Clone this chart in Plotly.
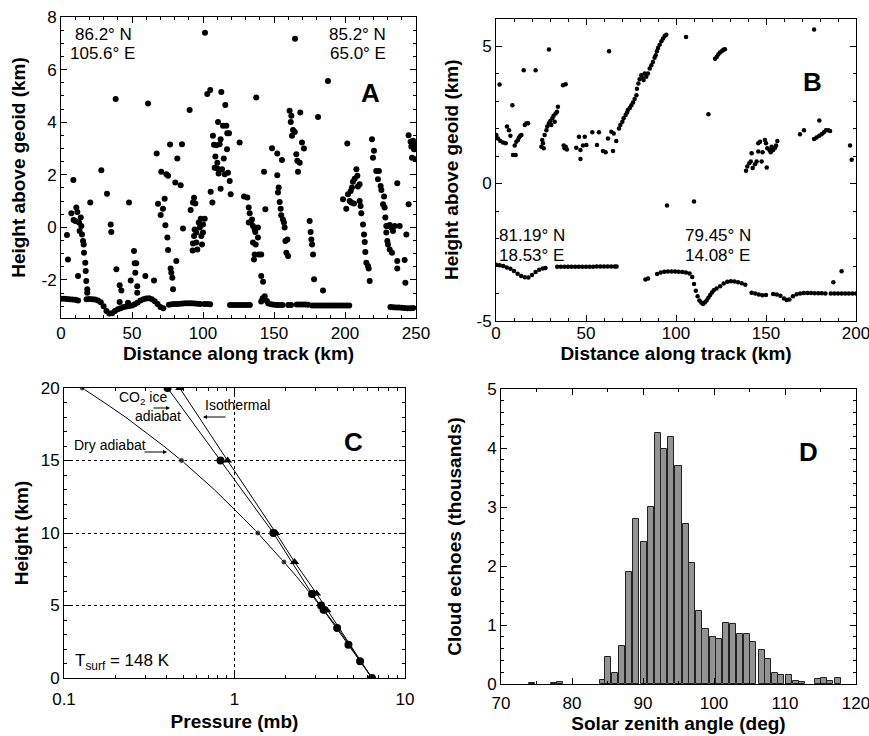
import plotly.graph_objects as go

W, H = 869, 736
FONT = "Liberation Sans, Arial, Helvetica, sans-serif"

def px(x):
    return x / W

def py(y):
    return 1 - y / H

# ---------------- Panel A data (km along track, km height) ----------------
a_cloud_x = [4.2, 4.9, 7.3, 8.7, 8.9, 10.1, 10.8, 11.5, 12.0, 12.7, 13.1, 13.9, 14.3, 14.8, 15.5, 16.0, 16.2, 17.1, 17.4, 17.8, 18.5, 18.5,
             20.6, 28.4, 32.4, 35.0, 35.4, 38.5, 39.0, 41.3, 42.5, 41.3, 47.9, 49.1, 51.4, 51.9, 53.0, 52.3, 53.7, 53.7, 47.2, 59.4,
             61.3, 65.5, 67.4, 68.3, 70.6, 70.2, 71.8, 73.0, 73.5, 74.9, 75.4, 74.2, 75.4, 76.8, 77.2, 77.7, 78.9, 78.4, 80.5, 81.2,
             81.9, 84.3, 85.2, 85.9,
             90.6, 91.3, 92.9, 93.7, 94.6, 94.1, 93.7, 92.9, 92.7, 95.3, 95.3, 96.0, 97.0, 97.7, 98.4, 98.8, 99.3, 100.0, 100.0, 101.2,
             101.4, 103.0, 105.1, 105.4, 106.6, 107.0, 107.7, 108.7, 109.4, 108.2, 110.1, 110.1, 110.6, 111.0, 111.7, 112.4, 112.4, 112.9,
             113.4, 114.1, 114.6, 115.3, 115.7, 116.4, 116.9, 117.1, 117.6, 118.3, 118.8, 119.5, 125.8, 128.9, 131.2, 132.2, 132.9,
             133.6, 132.2, 134.5, 135.2, 136.4, 137.5, 136.8, 138.7, 138.7, 135.2, 137.1, 136.4, 135.9, 139.2, 141.0, 143.0, 143.9,
             141.0, 142.3, 148.6, 152.3, 155.6, 152.3, 153.3, 152.8, 154.0, 154.7, 155.1, 156.3, 157.0, 157.5, 158.0, 159.4, 158.7,
             159.9, 161.0, 161.8, 162.2, 163.4, 164.6, 162.7, 164.8, 165.7, 166.4, 166.9, 168.5, 169.7,
             188.0, 171.1, 168.1, 181.0, 175.1, 175.8, 176.3, 176.8, 177.5, 178.2, 184.5, 201.6, 198.6, 200.9, 202.1, 203.3, 204.0,
             204.9, 205.6, 204.4, 206.3, 206.8, 208.0, 208.7, 209.1, 210.3, 210.3, 211.0, 211.5, 212.7, 213.4, 213.9, 214.3, 215.0,
             216.2, 216.7, 217.4, 219.0, 220.4, 219.7, 222.0, 223.9, 223.2, 225.1, 225.6, 227.5, 226.8, 227.9, 228.4, 229.1, 230.3,
             231.5, 232.6, 235.0, 233.8, 229.1, 229.8, 230.3, 231.5, 233.1, 236.8, 238.5, 236.8, 236.8, 242.0, 242.5, 243.2, 244.8,
             244.8, 246.2, 246.7, 247.9, 247.2, 248.6, 249.5, 249.0]
a_cloud_y = [-0.29, -1.22, 0.53, 1.80, 0.28, 0.24, 0.75, 0.58, -1.85, 0.18, -0.14, 0.37, 0.05, -0.27, -0.52, -0.65, -0.97, -1.35, -1.66, -2.04, -2.36, -2.49,
             0.94, 2.17, 1.28, 0.11, -0.18, 4.88, -1.60, -2.20, -2.40, -2.84, 0.94, -2.02, -0.90, -1.37, -1.37, -1.73, -2.24, -2.49, -2.87, -1.85,
             4.71, -2.02, 2.81, 0.90, 2.11, 0.47, 0.71, 1.09, 0.08, -0.39, -0.86, 2.02, 1.96, 3.15, -1.57, -1.73, -2.36, -1.92, 1.70, -1.28,
             2.62, 1.60, 3.16, -0.05,
             4.46, 0.66, 0.94, 1.12, 0.91, -0.08, -0.33, -0.62, -0.88, -0.20, -0.58, -0.84, 0.18, -0.01, 0.33, -0.33, -0.65, -0.20, 0.11, 0.33,
             7.40, 5.07, 5.22, 1.35, 0.94, 3.48, 3.14, 2.69, 3.12, 2.27, 2.46, 2.24, 4.01, 2.05, 3.16, 3.35, 1.47, 5.15,
             2.21, 3.86, 2.62, 2.02, 4.65, 3.86, 2.97, 3.58, 2.08, 3.58, 1.76, 1.26, 3.23, 1.17, 1.13, 0.75, 0.53,
             0.18, 0.18, 0.30, 0.05, -0.08, 4.94, -0.18, -0.01, -0.39, -0.58, -0.65, -1.03, -1.22, -1.03, -1.03, 2.11, 0.69,
             -1.85, -2.07, 3.01, 2.81, 2.56, 1.98, 1.51, 1.32, 0.96, 0.71, 0.46, 0.30, 0.18, -0.01, -0.52, -0.46, -0.97,
             -1.09, 4.43, 4.01, 4.24, 3.70, 3.63, 3.48, 7.17, 2.78, 2.53, 2.11, 4.37, 3.23,
             5.57, 3.00, 2.46, 4.20, 0.24, -0.18, -0.46, -0.65, -1.03, -1.98, -2.40, 3.19, 1.07, 0.71, 1.26, 1.00, 1.38,
             1.51, 1.73, 0.94, 0.91, 1.85, 2.21, 1.96, 1.55, 1.64, 1.00, 0.81, 0.53, 0.11, -0.27, -0.56, -0.94, -1.35,
             -1.47, -1.57, -2.04, 3.35, 2.91, 2.65, 2.14, 2.14, 1.83, 1.57, 1.42, 1.17, 0.88, 0.75, 0.37, 0.05, 0.05,
             0.09, -0.01, 0.05, -0.14, -0.20, -0.52, -0.65, -0.84, -0.97, 1.68, 0.05, -1.28, -1.57, -1.24, -2.11, -0.27, 0.88,
             3.50, 3.25, 3.07, 3.29, 2.65, 2.97, 2.59, 3.16]

a_surf_x = [0, 2, 4, 6, 8, 10, 12,
            18, 20, 22, 24, 26, 28, 30, 32, 34, 36, 38, 40, 42, 44, 46, 48, 50, 52, 54, 56, 58, 60, 62, 64, 66, 68, 70, 72,
            76, 78, 80, 82, 84, 86, 88, 90, 92, 94, 96, 98, 101, 103, 105,
            119, 121, 123, 125, 127, 129, 131, 133,
            141, 142, 143.5, 145, 146, 148, 150, 152, 154, 156,
            160, 162, 166, 168, 170, 172, 174, 177, 179, 181, 183, 185, 187, 189, 191, 193, 195, 197, 199, 201, 203,
            232, 234, 236, 238, 240, 242, 244, 246, 248]
a_surf_y = [-2.72, -2.72, -2.73, -2.74, -2.75, -2.76, -2.78,
            -2.74, -2.73, -2.74, -2.75, -2.78, -2.85, -3.00, -3.18, -3.28, -3.27, -3.18, -3.12, -3.08, -3.03, -3.01, -2.99, -2.97, -2.93,
            -2.86, -2.78, -2.74, -2.71, -2.70, -2.74, -2.81, -2.92, -3.03, -3.08,
            -2.95, -2.93, -2.92, -2.92, -2.91, -2.90, -2.89, -2.89, -2.89, -2.90, -2.91, -2.92, -2.92, -2.92, -2.93,
            -2.96, -2.96, -2.96, -2.96, -2.96, -2.96, -2.96, -2.96,
            -2.82, -2.70, -2.62, -2.80, -2.90, -2.93, -2.95, -2.96, -2.96, -2.96,
            -2.96, -2.96, -2.94, -2.94, -2.94, -2.94, -2.95, -2.97, -2.97, -2.97, -2.97, -2.97, -2.97, -2.97, -2.97, -2.97,
            -2.97, -2.97, -2.97, -2.97, -2.97,
            -3.03, -3.04, -3.05, -3.05, -3.06, -3.07, -3.08, -3.08, -3.07]

# ---------------- Panel B data ----------------
b_cloud_x = [2.0, 0.2, 1.1, 2.4, 3.9, 5.4, 6.1, 7.2, 8.0, 9.1, 9.4, 10.9, 10.4, 11.3, 12.2, 12.8, 13.5, 14.1, 15.4, 16.0, 16.9, 17.8,
             22.0, 25.2, 26.1, 26.5, 25.7, 27.0, 28.0, 28.5, 29.4, 30.2, 30.7, 31.3, 32.0, 32.6, 33.1, 33.9, 34.4, 29.4, 37.2, 38.7,
             37.6, 38.1, 39.4, 38.7, 44.6, 46.1, 46.9, 46.9, 48.3, 49.3, 50.2, 53.5, 57.2, 56.1, 59.4, 60.9, 62.8, 62.2, 64.1, 65.0,
             65.4, 66.8, 68.3, 69.1, 70.2, 70.9, 72.0, 72.8, 73.3, 74.3, 75.2, 76.1, 77.0, 78.0, 78.3, 79.1, 79.8, 80.7, 81.3, 82.0,
             82.6, 83.5, 84.4, 85.4, 86.3, 87.2, 88.1, 88.7, 89.4, 90.0, 90.9, 91.9, 92.8, 93.7, 94.6, 95.0,
             105.6, 121.7, 122.6, 123.5, 124.4, 125.4, 126.3, 127.2, 118.0, 176.7, 110.0, 138.9, 139.6, 140.7, 141.5, 142.0, 142.6,
             143.9, 144.8, 145.7, 145.7, 146.7, 147.6, 148.1, 149.4, 150.0, 150.4, 150.7, 151.9, 152.6, 153.1, 154.0, 155.0, 156.3,
             155.6, 168.9, 171.1, 179.6, 176.7, 178.1, 179.6, 180.9, 182.2, 183.3, 184.6, 185.6, 196.7, 197.6, 187.4, 192.0]
b_cloud_y = [3.60, 1.76, 1.64, 1.55, 1.49, 1.46, 2.07, 1.94, 1.74, 2.85, 1.04, 1.04, 1.38, 1.52, 1.58, 1.67, 1.74, 1.76, 4.12, 2.13, 2.19, 2.19,
             4.12, 1.34, 1.46, 1.28, 1.58, 1.76, 1.94, 2.07, 2.19, 2.27, 2.13, 2.37, 2.46, 2.25, 2.55, 2.61, 2.79, 4.87, 3.57, 3.61,
             1.38, 1.28, 1.24, 1.34, 1.30, 1.70, 1.22, 0.89, 1.38, 1.70, 1.40, 1.86, 1.86, 1.40, 1.18, 1.14, 4.81, 1.64, 1.88, 1.18,
             1.82, 1.55, 2.00, 2.13, 2.25, 2.37, 2.49, 2.58, 2.67, 2.75, 2.85, 2.95, 3.07, 3.21, 3.45, 3.64, 3.79, 3.94, 3.84, 3.76,
             4.00, 3.88, 4.00, 4.18, 4.30, 4.42, 4.57, 4.66, 4.81, 4.93, 5.05, 5.17, 5.27, 5.36, 5.41, -0.80,
             5.33, 4.54, 4.60, 4.69, 4.76, 4.81, 4.86, 4.88, 2.52, 5.60, -0.65, 0.46, 0.62, 0.74, 0.80, 1.10, 0.56,
             0.70, 0.80, 1.16, 1.46, 1.52, 0.80, 1.14, 1.58, 1.46, 0.58, 1.28, 1.22, 1.14, 1.34, 1.22, 1.30, 1.55,
             1.38, 1.79, 1.94, 2.29, 1.62, 1.67, 1.74, 1.79, 1.86, 1.94, 1.94, 1.91, 1.38, 0.86, -3.59, -3.19]

b_surf_x = [0, 2, 4, 6, 8, 10, 12, 14, 16, 18, 20, 22, 24, 26, 27.5,
            34, 36, 38, 40, 42, 44, 46, 48, 50, 52, 54, 56, 58, 60, 62, 64, 66, 67,
            83, 84.5,
            89.5, 91.5, 93.5, 95.5, 97.5, 99.5, 101.5, 103.5, 105.5, 107.5, 109, 110, 111, 112, 113, 114, 115, 116, 117, 118, 119,
            120, 121, 122.5,
            124.5, 126.5, 128.5, 130.5, 132.5, 134.5, 136.5, 138.5,
            142, 144, 146, 148, 150,
            154, 156, 158, 160, 161.5, 163, 165, 167, 169, 171, 173, 175, 177, 179, 181, 183,
            186, 188, 190, 192, 194, 196, 198, 200]
b_surf_y = [-2.95, -2.97, -3.00, -3.05, -3.10, -3.18, -3.28, -3.36, -3.41, -3.42, -3.33, -3.22, -3.14, -3.09, -3.07,
            -3.03, -3.03, -3.03, -3.03, -3.03, -3.03, -3.03, -3.03, -3.03, -3.03, -3.03, -3.02, -3.02, -3.02, -3.02, -3.02, -3.02, -3.02,
            -3.49, -3.45,
            -3.29, -3.24, -3.21, -3.20, -3.20, -3.20, -3.21, -3.22, -3.24, -3.27, -3.40, -3.65, -3.90, -4.10, -4.25, -4.33, -4.38,
            -4.33, -4.25, -4.15, -4.05, -3.96, -3.88, -3.82,
            -3.74, -3.64, -3.57, -3.55, -3.56, -3.59, -3.63, -3.68,
            -3.97, -4.00, -4.04, -4.06, -4.05,
            -4.02, -4.04, -4.08, -4.18, -4.24, -4.22, -4.10, -4.03, -4.00, -3.98, -3.98, -3.98, -3.99, -3.99, -3.99, -4.00,
            -4.00, -4.00, -4.00, -4.00, -4.00, -4.00, -4.00, -4.00]

# ---------------- Panel C data (pressure mb, height km) ----------------
dry_z = [0, 1.15, 2.3, 3.45, 4.6, 5.8, 7, 8, 9, 10, 11, 12, 13, 14, 15, 16, 17, 18, 19, 20]
dry_p = [6.4, 5.5, 4.69, 4.03, 3.38, 2.81, 2.31, 1.95, 1.64, 1.37, 1.13, 0.93, 0.76, 0.61, 0.489, 0.384, 0.298, 0.229, 0.172, 0.128]
dry_mark = [7, 6, 6, 6, 6, 6, 0, 6, 0, 6, 0, 0, 0, 0, 6, 0, 0, 0, 0, 6]

co2_z = [0, 1.15, 2.3, 3.45, 4.7, 5.0, 5.8, 10, 15, 20]
co2_p = [6.4, 5.45, 4.66, 4.0, 3.33, 3.22, 2.85, 1.69, 0.828, 0.405]

iso_z = [0, 4.67, 5.82, 8, 10, 15, 20]
iso_p = [6.4, 3.48, 3.03, 2.25, 1.75, 0.91, 0.477]

c_minor_ticks = [0.2, 0.3, 0.4, 0.5, 0.6, 0.7, 0.8, 0.9, 2, 3, 4, 5, 6, 7, 8, 9]

# ---------------- Panel D data ----------------
sza = [74.4, 77.4, 78.3, 84.3, 85.1, 86.0, 87.0, 88.0, 89.0, 90.1, 91.1, 92.1, 93.0, 94.0, 95.0, 96.0, 96.9, 97.9, 98.8, 99.8,
       100.7, 101.7, 102.7, 103.7, 104.6, 105.5, 106.7, 107.6, 108.6, 109.5, 110.6, 111.5, 112.4, 114.6, 115.5, 116.4, 117.4]
echoes = [0.02, 0.02, 0.04, 0.06, 0.45, 0.18, 0.65, 1.89, 2.79, 2.40, 3.00, 4.25, 3.99, 4.19, 3.70, 2.71, 2.05, 1.24, 0.94, 0.79,
          0.76, 1.04, 1.02, 0.85, 0.85, 0.72, 0.58, 0.42, 0.18, 0.15, 0.15, 0.05, 0.03, 0.08, 0.11, 0.05, 0.11]

fig = go.Figure()

# A
fig.add_trace(go.Scatter(x=a_surf_x, y=a_surf_y, mode='markers', marker=dict(color='black', size=6),
                         xaxis='x', yaxis='y', showlegend=False, name='A surface'))
fig.add_trace(go.Scatter(x=a_cloud_x, y=a_cloud_y, mode='markers', marker=dict(color='black', size=6),
                         xaxis='x', yaxis='y', showlegend=False, name='A echoes'))
# B
fig.add_trace(go.Scatter(x=b_surf_x, y=b_surf_y, mode='markers', marker=dict(color='black', size=4.5),
                         xaxis='x2', yaxis='y2', showlegend=False, name='B surface'))
fig.add_trace(go.Scatter(x=b_cloud_x, y=b_cloud_y, mode='markers', marker=dict(color='black', size=4.5),
                         xaxis='x2', yaxis='y2', showlegend=False, name='B echoes'))
# C
fig.add_trace(go.Scatter(x=dry_p, y=dry_z, mode='lines+markers', line=dict(color='black', width=1),
                         marker=dict(color='black', size=dry_mark, symbol='circle'),
                         xaxis='x3', yaxis='y3', showlegend=False, name='Dry adiabat'))
fig.add_trace(go.Scatter(x=co2_p, y=co2_z, mode='lines+markers', line=dict(color='black', width=1),
                         marker=dict(color='black', size=8, symbol='circle'),
                         xaxis='x3', yaxis='y3', showlegend=False, name='CO2 ice adiabat'))
fig.add_trace(go.Scatter(x=iso_p, y=iso_z, mode='lines+markers', line=dict(color='black', width=1),
                         marker=dict(color='black', size=8, symbol='triangle-up'),
                         xaxis='x3', yaxis='y3', showlegend=False, name='Isothermal'))
# D
fig.add_trace(go.Bar(x=sza, y=echoes, width=0.85,
                     marker=dict(color='#939393', line=dict(color='#222', width=1)),
                     xaxis='x4', yaxis='y4', showlegend=False, name='Cloud echoes'))

tickfont = dict(family=FONT, size=17, color='black')
titlefont = dict(family=FONT, size=19, color='black', weight='bold')

def axis(**kw):
    d = dict(showline=True, linecolor='black', linewidth=1, mirror='allticks', ticks='inside', ticklen=6,
             tickwidth=1, tickcolor='black', showgrid=False, zeroline=False, tickfont=tickfont, automargin=False,
             ticklabeloverflow='allow')
    d.update(kw)
    return d

minor = lambda dt: dict(ticks='inside', ticklen=3, tickcolor='black', dtick=dt, showgrid=False)

fig.update_layout(
    width=W, height=H, margin=dict(l=0, r=0, t=0, b=0),
    paper_bgcolor='white', plot_bgcolor='white', showlegend=False, bargap=0,
    xaxis=axis(domain=[px(61), px(416)], range=[0, 250], tickvals=[0, 50, 100, 150, 200, 250], minor=minor(10),
               anchor='y', title=dict(text='Distance along track (km)', font=titlefont, standoff=0)),
    yaxis=axis(domain=[py(318), py(17)], range=[-3.45, 8], tickvals=[-2, 0, 2, 4, 6, 8],
               ticktext=['-2', '0', '2', '4', '6', '8'], minor=minor(0.5), anchor='x',
               title=dict(text='Height above geoid (km)', font=titlefont, standoff=10)),
    xaxis2=axis(domain=[px(496), px(856)], range=[0, 200], tickvals=[0, 50, 100, 150, 200], minor=minor(10),
                anchor='y2', ticklabelstandoff=-3,
                title=dict(text='Distance along track (km)', font=titlefont, standoff=2)),
    yaxis2=axis(domain=[py(321), py(18.5)], range=[-5, 6], tickvals=[-5, 0, 5], ticktext=['-5', '0', '5'],
                minor=minor(1), anchor='x2', title=dict(text='Height above geoid (km)', font=titlefont, standoff=12)),
    xaxis3=axis(domain=[px(64), px(405)], type='log', range=[-1, 1], tickvals=[0.1, 1, 10], ticktext=['0.1', '1', '10'],
                minor=dict(ticks='inside', ticklen=3, tickcolor='black', showgrid=False, tickmode='array',
                           tickvals=c_minor_ticks),
                showgrid=True, gridcolor='black', griddash='dot', gridwidth=1, ticklabelstandoff=6,
                anchor='y3', title=dict(text='Pressure (mb)', font=titlefont, standoff=6)),
    yaxis3=axis(domain=[py(678), py(388)], range=[0, 20], tickvals=[0, 5, 10, 15, 20], minor=minor(1),
                showgrid=True, gridcolor='black', griddash='dot', gridwidth=1,
                anchor='x3', title=dict(text='Height (km)', font=titlefont, standoff=7)),
    xaxis4=axis(domain=[px(501), px(856)], range=[70, 120], tickvals=[70, 80, 90, 100, 110, 120], minor=minor(5),
                anchor='y4', ticklabelstandoff=4,
                title=dict(text='Solar zenith angle (deg)', font=titlefont, standoff=4)),
    yaxis4=axis(domain=[py(684), py(389)], range=[0, 5], tickvals=[0, 1, 2, 3, 4, 5], minor=minor(0.2),
                anchor='x4', title=dict(text='Cloud echoes (thousands)', font=titlefont, standoff=20)),
)

def txt(x, y, s, size=17, xanchor='left', bold=False):
    fig.add_annotation(x=px(x), y=py(y), xref='paper', yref='paper', text=s, showarrow=False,
                       xanchor=xanchor, yanchor='middle',
                       font=dict(family=FONT, size=size, color='black', weight='bold' if bold else 'normal'))

# Panel A labels
txt(73, 34, '86.2° N')
txt(68, 53, '105.6° E')
txt(388, 34, '85.2° N', xanchor='right')
txt(388, 53, '65.0° E', xanchor='right')
txt(370, 93, 'A', size=26, xanchor='center', bold=True)
# Panel B labels
txt(497, 235, '81.19° N')
txt(497, 255, '18.53° E')
txt(683, 235, '79.45° N')
txt(683, 255, '14.08° E')
txt(812, 82, 'B', size=26, xanchor='center', bold=True)
# Panel C labels
txt(117, 398, 'CO<sub>2</sub> ice', size=14)
txt(133, 416, 'adiabat', size=14)
txt(203, 405, 'Isothermal', size=14)
txt(72, 445, 'Dry adiabat', size=14)
txt(73, 662, 'T<sub>surf</sub> = 148 K', size=17)
txt(353, 442, 'C', size=26, xanchor='center', bold=True)
# Panel D label
txt(808, 452, 'D', size=26, xanchor='center', bold=True)

def arrow(hx, hy, dx):
    fig.add_annotation(x=px(hx), y=py(hy), xref='paper', yref='paper', text='', showarrow=True,
                       ax=dx, ay=0, arrowhead=2, arrowsize=0.8, arrowwidth=1, arrowcolor='black')

arrow(170, 408, -18)
arrow(203, 417, 24)
arrow(167, 452, -24)

fig.write_html('out.html')
